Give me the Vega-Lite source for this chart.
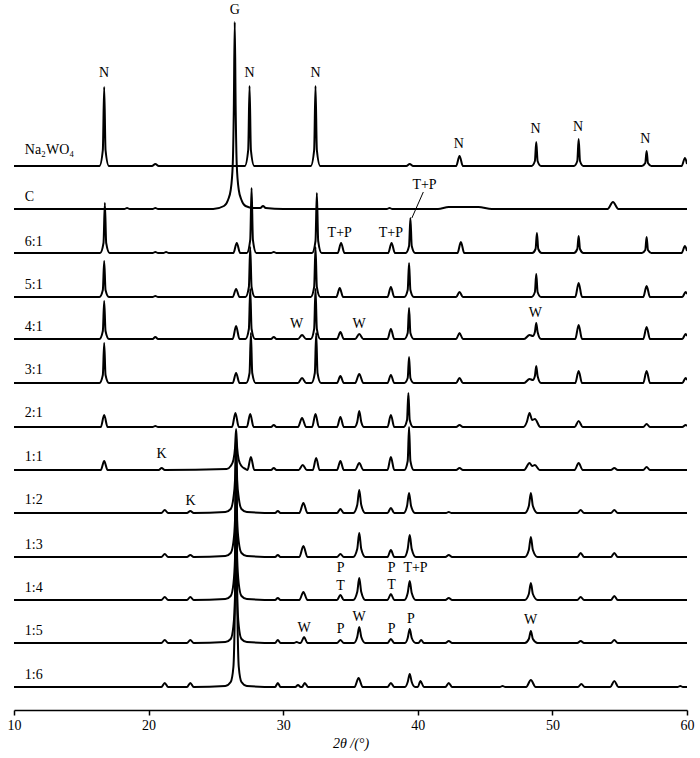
{
"$schema":"https://vega.github.io/schema/vega-lite/v6.json",
"width":673,"height":705,
"autosize":{"type":"none"},
"padding":{"left":14,"top":5,"right":13,"bottom":48},
"config":{"view":{"stroke":null},"font":"Liberation Serif"},
"datasets":{
"xrd":[
{"s":"Na","x":10,"y":544},{"s":"Na","x":16.35,"y":544},{"s":"Na","x":16.6,"y":560},{"s":"Na","x":16.7,"y":623},{"s":"Na","x":16.8,"y":560},{"s":"Na","x":17.05,"y":544},
{"s":"Na","x":20.25,"y":544},{"s":"Na","x":20.5,"y":546},{"s":"Na","x":20.75,"y":544},
{"s":"Na","x":27.15,"y":544},{"s":"Na","x":27.4,"y":560},{"s":"Na","x":27.5,"y":624},{"s":"Na","x":27.6,"y":560},{"s":"Na","x":27.85,"y":544},
{"s":"Na","x":32.05,"y":544},{"s":"Na","x":32.3,"y":560},{"s":"Na","x":32.4,"y":624},{"s":"Na","x":32.5,"y":560},{"s":"Na","x":32.75,"y":544},
{"s":"Na","x":39.15,"y":544},{"s":"Na","x":39.4,"y":546},{"s":"Na","x":39.65,"y":544},
{"s":"Na","x":42.85,"y":544},{"s":"Na","x":43.1,"y":554},{"s":"Na","x":43.35,"y":544},
{"s":"Na","x":48.45,"y":544},{"s":"Na","x":48.7,"y":549},{"s":"Na","x":48.8,"y":568},{"s":"Na","x":48.9,"y":549},{"s":"Na","x":49.15,"y":544},
{"s":"Na","x":51.6,"y":544},{"s":"Na","x":51.85,"y":549},{"s":"Na","x":51.95,"y":571},{"s":"Na","x":52.05,"y":549},{"s":"Na","x":52.3,"y":544},
{"s":"Na","x":56.65,"y":544},{"s":"Na","x":56.9,"y":547},{"s":"Na","x":57.0,"y":559},{"s":"Na","x":57.1,"y":547},{"s":"Na","x":57.35,"y":544},
{"s":"Na","x":59.6,"y":544},{"s":"Na","x":59.85,"y":552},{"s":"Na","x":60,"y":546},

{"s":"C","x":10,"y":501},{"s":"C","x":18.2,"y":501},{"s":"C","x":18.4,"y":502},{"s":"C","x":18.6,"y":501},{"s":"C","x":20.3,"y":501},{"s":"C","x":20.5,"y":502},{"s":"C","x":20.7,"y":501},
{"s":"C","x":24.8,"y":501},{"s":"C","x":25.6,"y":504},{"s":"C","x":25.9,"y":510},{"s":"C","x":26.1,"y":520},{"s":"C","x":26.25,"y":545},{"s":"C","x":26.33,"y":600},{"s":"C","x":26.4,"y":688},{"s":"C","x":26.47,"y":600},{"s":"C","x":26.55,"y":545},{"s":"C","x":26.7,"y":520},{"s":"C","x":26.9,"y":510},{"s":"C","x":27.2,"y":504},{"s":"C","x":27.8,"y":502},
{"s":"C","x":28.3,"y":502},{"s":"C","x":28.5,"y":504},{"s":"C","x":28.7,"y":502},{"s":"C","x":30,"y":501},{"s":"C","x":37.7,"y":501},{"s":"C","x":37.9,"y":502},{"s":"C","x":38.1,"y":501},
{"s":"C","x":41.5,"y":501},{"s":"C","x":42.3,"y":503},{"s":"C","x":44.5,"y":503},{"s":"C","x":45.5,"y":501},{"s":"C","x":54.1,"y":501},{"s":"C","x":54.5,"y":508},{"s":"C","x":54.9,"y":501},{"s":"C","x":60,"y":501},

{"s":"6:1","x":10,"y":457},{"s":"6:1","x":16.4,"y":457},{"s":"6:1","x":16.65,"y":467},{"s":"6:1","x":16.75,"y":507},{"s":"6:1","x":16.85,"y":467},{"s":"6:1","x":17.1,"y":457},
{"s":"6:1","x":20.3,"y":457},{"s":"6:1","x":20.5,"y":458},{"s":"6:1","x":20.7,"y":457},{"s":"6:1","x":21.1,"y":457},{"s":"6:1","x":21.3,"y":458},{"s":"6:1","x":21.5,"y":457},
{"s":"6:1","x":26.3,"y":457},{"s":"6:1","x":26.55,"y":467},{"s":"6:1","x":26.8,"y":457},
{"s":"6:1","x":27.3,"y":457},{"s":"6:1","x":27.55,"y":470},{"s":"6:1","x":27.65,"y":522},{"s":"6:1","x":27.75,"y":470},{"s":"6:1","x":28.0,"y":457},
{"s":"6:1","x":29.1,"y":457},{"s":"6:1","x":29.3,"y":458},{"s":"6:1","x":29.5,"y":457},
{"s":"6:1","x":32.15,"y":457},{"s":"6:1","x":32.4,"y":469},{"s":"6:1","x":32.5,"y":517},{"s":"6:1","x":32.6,"y":469},{"s":"6:1","x":32.85,"y":457},
{"s":"6:1","x":34.05,"y":457},{"s":"6:1","x":34.3,"y":467},{"s":"6:1","x":34.55,"y":457},
{"s":"6:1","x":37.8,"y":457},{"s":"6:1","x":38.05,"y":467},{"s":"6:1","x":38.3,"y":457},
{"s":"6:1","x":39.1,"y":457},{"s":"6:1","x":39.35,"y":464},{"s":"6:1","x":39.45,"y":492},{"s":"6:1","x":39.55,"y":464},{"s":"6:1","x":39.8,"y":457},
{"s":"6:1","x":42.95,"y":457},{"s":"6:1","x":43.2,"y":468},{"s":"6:1","x":43.45,"y":457},
{"s":"6:1","x":48.5,"y":457},{"s":"6:1","x":48.75,"y":461},{"s":"6:1","x":48.85,"y":477},{"s":"6:1","x":48.95,"y":461},{"s":"6:1","x":49.2,"y":457},
{"s":"6:1","x":51.6,"y":457},{"s":"6:1","x":51.85,"y":461},{"s":"6:1","x":51.95,"y":474},{"s":"6:1","x":52.05,"y":461},{"s":"6:1","x":52.3,"y":457},
{"s":"6:1","x":56.65,"y":457},{"s":"6:1","x":56.9,"y":460},{"s":"6:1","x":57.0,"y":473},{"s":"6:1","x":57.1,"y":460},{"s":"6:1","x":57.35,"y":457},
{"s":"6:1","x":59.6,"y":457},{"s":"6:1","x":59.85,"y":464},{"s":"6:1","x":60,"y":459},

{"s":"5:1","x":10,"y":413},{"s":"5:1","x":16.35,"y":413},{"s":"5:1","x":16.6,"y":420},{"s":"5:1","x":16.7,"y":449},{"s":"5:1","x":16.8,"y":420},{"s":"5:1","x":17.05,"y":413},
{"s":"5:1","x":20.3,"y":413},{"s":"5:1","x":20.5,"y":414},{"s":"5:1","x":20.7,"y":413},
{"s":"5:1","x":26.25,"y":413},{"s":"5:1","x":26.5,"y":421},{"s":"5:1","x":26.75,"y":413},
{"s":"5:1","x":27.2,"y":413},{"s":"5:1","x":27.45,"y":423},{"s":"5:1","x":27.55,"y":463},{"s":"5:1","x":27.65,"y":423},{"s":"5:1","x":27.9,"y":413},
{"s":"5:1","x":32.05,"y":413},{"s":"5:1","x":32.3,"y":423},{"s":"5:1","x":32.4,"y":463},{"s":"5:1","x":32.5,"y":423},{"s":"5:1","x":32.75,"y":413},
{"s":"5:1","x":33.95,"y":413},{"s":"5:1","x":34.2,"y":422},{"s":"5:1","x":34.45,"y":413},
{"s":"5:1","x":37.75,"y":413},{"s":"5:1","x":38.0,"y":423},{"s":"5:1","x":38.25,"y":413},
{"s":"5:1","x":39.0,"y":413},{"s":"5:1","x":39.25,"y":420},{"s":"5:1","x":39.35,"y":447},{"s":"5:1","x":39.45,"y":420},{"s":"5:1","x":39.7,"y":413},
{"s":"5:1","x":42.85,"y":413},{"s":"5:1","x":43.1,"y":418},{"s":"5:1","x":43.35,"y":413},
{"s":"5:1","x":48.45,"y":413},{"s":"5:1","x":48.7,"y":418},{"s":"5:1","x":48.8,"y":436},{"s":"5:1","x":48.9,"y":418},{"s":"5:1","x":49.15,"y":413},
{"s":"5:1","x":51.7,"y":413},{"s":"5:1","x":51.95,"y":427},{"s":"5:1","x":52.2,"y":413},
{"s":"5:1","x":56.75,"y":413},{"s":"5:1","x":57.0,"y":424},{"s":"5:1","x":57.25,"y":413},
{"s":"5:1","x":59.65,"y":413},{"s":"5:1","x":59.9,"y":418},{"s":"5:1","x":60,"y":416},

{"s":"4:1","x":10,"y":371},{"s":"4:1","x":16.35,"y":371},{"s":"4:1","x":16.6,"y":379},{"s":"4:1","x":16.7,"y":409},{"s":"4:1","x":16.8,"y":379},{"s":"4:1","x":17.05,"y":371},
{"s":"4:1","x":20.3,"y":371},{"s":"4:1","x":20.5,"y":373},{"s":"4:1","x":20.7,"y":371},
{"s":"4:1","x":26.25,"y":371},{"s":"4:1","x":26.5,"y":384},{"s":"4:1","x":26.75,"y":371},
{"s":"4:1","x":27.2,"y":371},{"s":"4:1","x":27.45,"y":381},{"s":"4:1","x":27.55,"y":421},{"s":"4:1","x":27.65,"y":381},{"s":"4:1","x":27.9,"y":371},
{"s":"4:1","x":29.1,"y":371},{"s":"4:1","x":29.3,"y":373},{"s":"4:1","x":29.5,"y":371},
{"s":"4:1","x":31.1,"y":371},{"s":"4:1","x":31.4,"y":375},{"s":"4:1","x":31.7,"y":371},
{"s":"4:1","x":32.05,"y":371},{"s":"4:1","x":32.3,"y":381},{"s":"4:1","x":32.4,"y":421},{"s":"4:1","x":32.5,"y":381},{"s":"4:1","x":32.75,"y":371},
{"s":"4:1","x":34.0,"y":371},{"s":"4:1","x":34.25,"y":378},{"s":"4:1","x":34.5,"y":371},
{"s":"4:1","x":35.35,"y":371},{"s":"4:1","x":35.65,"y":376},{"s":"4:1","x":35.95,"y":371},
{"s":"4:1","x":37.75,"y":371},{"s":"4:1","x":38.0,"y":381},{"s":"4:1","x":38.25,"y":371},
{"s":"4:1","x":39.0,"y":371},{"s":"4:1","x":39.25,"y":377},{"s":"4:1","x":39.35,"y":402},{"s":"4:1","x":39.45,"y":377},{"s":"4:1","x":39.7,"y":371},
{"s":"4:1","x":42.85,"y":371},{"s":"4:1","x":43.1,"y":377},{"s":"4:1","x":43.35,"y":371},
{"s":"4:1","x":47.9,"y":371},{"s":"4:1","x":48.3,"y":375},{"s":"4:1","x":48.55,"y":374},{"s":"4:1","x":48.7,"y":378},{"s":"4:1","x":48.8,"y":387},{"s":"4:1","x":48.9,"y":378},{"s":"4:1","x":49.15,"y":371},
{"s":"4:1","x":51.7,"y":371},{"s":"4:1","x":51.95,"y":385},{"s":"4:1","x":52.2,"y":371},
{"s":"4:1","x":56.75,"y":371},{"s":"4:1","x":57.0,"y":383},{"s":"4:1","x":57.25,"y":371},
{"s":"4:1","x":59.65,"y":371},{"s":"4:1","x":59.9,"y":376},{"s":"4:1","x":60,"y":374},

{"s":"3:1","x":10,"y":327},{"s":"3:1","x":16.35,"y":327},{"s":"3:1","x":16.6,"y":335},{"s":"3:1","x":16.7,"y":367},{"s":"3:1","x":16.8,"y":335},{"s":"3:1","x":17.05,"y":327},
{"s":"3:1","x":26.25,"y":327},{"s":"3:1","x":26.5,"y":337},{"s":"3:1","x":26.75,"y":327},
{"s":"3:1","x":27.25,"y":327},{"s":"3:1","x":27.5,"y":337},{"s":"3:1","x":27.6,"y":377},{"s":"3:1","x":27.7,"y":337},{"s":"3:1","x":27.95,"y":327},
{"s":"3:1","x":31.1,"y":327},{"s":"3:1","x":31.4,"y":332},{"s":"3:1","x":31.7,"y":327},
{"s":"3:1","x":32.1,"y":327},{"s":"3:1","x":32.35,"y":337},{"s":"3:1","x":32.45,"y":377},{"s":"3:1","x":32.55,"y":337},{"s":"3:1","x":32.8,"y":327},
{"s":"3:1","x":34.0,"y":327},{"s":"3:1","x":34.25,"y":334},{"s":"3:1","x":34.5,"y":327},
{"s":"3:1","x":35.35,"y":327},{"s":"3:1","x":35.65,"y":336},{"s":"3:1","x":35.95,"y":327},
{"s":"3:1","x":37.75,"y":327},{"s":"3:1","x":38.0,"y":335},{"s":"3:1","x":38.25,"y":327},
{"s":"3:1","x":39.0,"y":327},{"s":"3:1","x":39.25,"y":332},{"s":"3:1","x":39.35,"y":353},{"s":"3:1","x":39.45,"y":332},{"s":"3:1","x":39.7,"y":327},
{"s":"3:1","x":42.85,"y":327},{"s":"3:1","x":43.1,"y":332},{"s":"3:1","x":43.35,"y":327},
{"s":"3:1","x":47.9,"y":327},{"s":"3:1","x":48.3,"y":331},{"s":"3:1","x":48.55,"y":330},{"s":"3:1","x":48.7,"y":334},{"s":"3:1","x":48.8,"y":344},{"s":"3:1","x":48.9,"y":334},{"s":"3:1","x":49.15,"y":327},
{"s":"3:1","x":51.7,"y":327},{"s":"3:1","x":51.95,"y":339},{"s":"3:1","x":52.2,"y":327},
{"s":"3:1","x":56.75,"y":327},{"s":"3:1","x":57.0,"y":339},{"s":"3:1","x":57.25,"y":327},
{"s":"3:1","x":59.65,"y":327},{"s":"3:1","x":59.9,"y":332},{"s":"3:1","x":60,"y":330},

{"s":"2:1","x":10,"y":283},{"s":"2:1","x":16.45,"y":283},{"s":"2:1","x":16.7,"y":295},{"s":"2:1","x":16.95,"y":283},
{"s":"2:1","x":20.3,"y":283},{"s":"2:1","x":20.5,"y":284},{"s":"2:1","x":20.7,"y":283},
{"s":"2:1","x":26.2,"y":283},{"s":"2:1","x":26.45,"y":297},{"s":"2:1","x":26.7,"y":283},
{"s":"2:1","x":27.3,"y":283},{"s":"2:1","x":27.55,"y":296},{"s":"2:1","x":27.8,"y":283},
{"s":"2:1","x":29.1,"y":283},{"s":"2:1","x":29.3,"y":285},{"s":"2:1","x":29.5,"y":283},
{"s":"2:1","x":31.1,"y":283},{"s":"2:1","x":31.4,"y":292},{"s":"2:1","x":31.7,"y":283},
{"s":"2:1","x":32.15,"y":283},{"s":"2:1","x":32.4,"y":296},{"s":"2:1","x":32.65,"y":283},
{"s":"2:1","x":34.0,"y":283},{"s":"2:1","x":34.25,"y":293},{"s":"2:1","x":34.5,"y":283},
{"s":"2:1","x":35.3,"y":283},{"s":"2:1","x":35.5,"y":288},{"s":"2:1","x":35.65,"y":299},{"s":"2:1","x":35.8,"y":288},{"s":"2:1","x":36.0,"y":283},
{"s":"2:1","x":37.75,"y":283},{"s":"2:1","x":38.0,"y":295},{"s":"2:1","x":38.25,"y":283},
{"s":"2:1","x":38.95,"y":283},{"s":"2:1","x":39.2,"y":290},{"s":"2:1","x":39.3,"y":317},{"s":"2:1","x":39.4,"y":290},{"s":"2:1","x":39.65,"y":283},
{"s":"2:1","x":42.85,"y":283},{"s":"2:1","x":43.1,"y":285},{"s":"2:1","x":43.35,"y":283},
{"s":"2:1","x":47.85,"y":283},{"s":"2:1","x":48.1,"y":288},{"s":"2:1","x":48.3,"y":297},{"s":"2:1","x":48.5,"y":290},{"s":"2:1","x":48.7,"y":291},{"s":"2:1","x":49.1,"y":283},
{"s":"2:1","x":51.65,"y":283},{"s":"2:1","x":51.95,"y":289},{"s":"2:1","x":52.25,"y":283},
{"s":"2:1","x":56.75,"y":283},{"s":"2:1","x":57.0,"y":286},{"s":"2:1","x":57.25,"y":283},
{"s":"2:1","x":59.65,"y":283},{"s":"2:1","x":59.9,"y":285},{"s":"2:1","x":60,"y":284},

{"s":"1:1","x":10,"y":240},{"s":"1:1","x":16.45,"y":240},{"s":"1:1","x":16.7,"y":249},{"s":"1:1","x":16.95,"y":240},
{"s":"1:1","x":20.75,"y":240},{"s":"1:1","x":20.97,"y":242},{"s":"1:1","x":21.2,"y":240},
{"s":"1:1","x":25.8,"y":241},{"s":"1:1","x":26.1,"y":244},{"s":"1:1","x":26.3,"y":250},{"s":"1:1","x":26.42,"y":262},{"s":"1:1","x":26.5,"y":281},{"s":"1:1","x":26.58,"y":262},{"s":"1:1","x":26.7,"y":250},{"s":"1:1","x":26.9,"y":244},{"s":"1:1","x":27.2,"y":241},
{"s":"1:1","x":27.35,"y":240},{"s":"1:1","x":27.6,"y":253},{"s":"1:1","x":27.85,"y":240},
{"s":"1:1","x":29.1,"y":240},{"s":"1:1","x":29.3,"y":242},{"s":"1:1","x":29.5,"y":240},
{"s":"1:1","x":31.15,"y":240},{"s":"1:1","x":31.45,"y":245},{"s":"1:1","x":31.75,"y":240},
{"s":"1:1","x":32.2,"y":240},{"s":"1:1","x":32.45,"y":252},{"s":"1:1","x":32.7,"y":240},
{"s":"1:1","x":34.0,"y":240},{"s":"1:1","x":34.25,"y":249},{"s":"1:1","x":34.5,"y":240},
{"s":"1:1","x":35.35,"y":240},{"s":"1:1","x":35.65,"y":247},{"s":"1:1","x":35.95,"y":240},
{"s":"1:1","x":37.75,"y":240},{"s":"1:1","x":38.0,"y":253},{"s":"1:1","x":38.25,"y":240},
{"s":"1:1","x":39.0,"y":240},{"s":"1:1","x":39.25,"y":249},{"s":"1:1","x":39.35,"y":283},{"s":"1:1","x":39.45,"y":249},{"s":"1:1","x":39.7,"y":240},
{"s":"1:1","x":42.85,"y":240},{"s":"1:1","x":43.1,"y":242},{"s":"1:1","x":43.35,"y":240},
{"s":"1:1","x":47.9,"y":240},{"s":"1:1","x":48.3,"y":247},{"s":"1:1","x":48.5,"y":244},{"s":"1:1","x":48.7,"y":245},{"s":"1:1","x":49.05,"y":240},
{"s":"1:1","x":51.65,"y":240},{"s":"1:1","x":51.95,"y":247},{"s":"1:1","x":52.25,"y":240},
{"s":"1:1","x":54.35,"y":240},{"s":"1:1","x":54.6,"y":242},{"s":"1:1","x":54.85,"y":240},
{"s":"1:1","x":56.75,"y":240},{"s":"1:1","x":57.0,"y":243},{"s":"1:1","x":57.25,"y":240},{"s":"1:1","x":60,"y":240},

{"s":"1:2","x":10,"y":197},{"s":"1:2","x":20.95,"y":197},{"s":"1:2","x":21.2,"y":200},{"s":"1:2","x":21.45,"y":197},
{"s":"1:2","x":22.85,"y":197},{"s":"1:2","x":23.1,"y":199},{"s":"1:2","x":23.35,"y":197},
{"s":"1:2","x":25.7,"y":198},{"s":"1:2","x":26.1,"y":201},{"s":"1:2","x":26.3,"y":212},{"s":"1:2","x":26.42,"y":230},{"s":"1:2","x":26.5,"y":275},{"s":"1:2","x":26.58,"y":230},{"s":"1:2","x":26.7,"y":212},{"s":"1:2","x":26.9,"y":201},{"s":"1:2","x":27.3,"y":198},
{"s":"1:2","x":29.4,"y":197},{"s":"1:2","x":29.6,"y":199},{"s":"1:2","x":29.8,"y":197},
{"s":"1:2","x":31.2,"y":197},{"s":"1:2","x":31.5,"y":207},{"s":"1:2","x":31.8,"y":197},
{"s":"1:2","x":34.0,"y":197},{"s":"1:2","x":34.25,"y":201},{"s":"1:2","x":34.5,"y":197},
{"s":"1:2","x":35.2,"y":197},{"s":"1:2","x":35.5,"y":205},{"s":"1:2","x":35.65,"y":220},{"s":"1:2","x":35.8,"y":205},{"s":"1:2","x":36.1,"y":197},
{"s":"1:2","x":37.75,"y":197},{"s":"1:2","x":38.0,"y":202},{"s":"1:2","x":38.25,"y":197},
{"s":"1:2","x":38.95,"y":197},{"s":"1:2","x":39.2,"y":204},{"s":"1:2","x":39.35,"y":217},{"s":"1:2","x":39.5,"y":204},{"s":"1:2","x":39.8,"y":197},
{"s":"1:2","x":42.1,"y":197},{"s":"1:2","x":42.3,"y":198},{"s":"1:2","x":42.5,"y":197},
{"s":"1:2","x":47.95,"y":197},{"s":"1:2","x":48.25,"y":204},{"s":"1:2","x":48.4,"y":217},{"s":"1:2","x":48.55,"y":204},{"s":"1:2","x":48.9,"y":197},
{"s":"1:2","x":51.85,"y":197},{"s":"1:2","x":52.1,"y":200},{"s":"1:2","x":52.35,"y":197},
{"s":"1:2","x":54.35,"y":197},{"s":"1:2","x":54.6,"y":200},{"s":"1:2","x":54.85,"y":197},{"s":"1:2","x":60,"y":197},

{"s":"1:3","x":10,"y":153},{"s":"1:3","x":20.95,"y":153},{"s":"1:3","x":21.2,"y":156},{"s":"1:3","x":21.45,"y":153},
{"s":"1:3","x":22.85,"y":153},{"s":"1:3","x":23.1,"y":155},{"s":"1:3","x":23.35,"y":153},
{"s":"1:3","x":25.7,"y":154},{"s":"1:3","x":26.1,"y":157},{"s":"1:3","x":26.3,"y":168},{"s":"1:3","x":26.42,"y":190},{"s":"1:3","x":26.5,"y":262},{"s":"1:3","x":26.58,"y":190},{"s":"1:3","x":26.7,"y":168},{"s":"1:3","x":26.9,"y":157},{"s":"1:3","x":27.3,"y":154},
{"s":"1:3","x":29.4,"y":153},{"s":"1:3","x":29.6,"y":155},{"s":"1:3","x":29.8,"y":153},
{"s":"1:3","x":31.2,"y":153},{"s":"1:3","x":31.5,"y":164},{"s":"1:3","x":31.8,"y":153},
{"s":"1:3","x":34.0,"y":153},{"s":"1:3","x":34.25,"y":156},{"s":"1:3","x":34.5,"y":153},
{"s":"1:3","x":35.2,"y":153},{"s":"1:3","x":35.5,"y":161},{"s":"1:3","x":35.65,"y":177},{"s":"1:3","x":35.8,"y":161},{"s":"1:3","x":36.1,"y":153},
{"s":"1:3","x":37.75,"y":153},{"s":"1:3","x":38.0,"y":160},{"s":"1:3","x":38.25,"y":153},
{"s":"1:3","x":39.0,"y":153},{"s":"1:3","x":39.25,"y":161},{"s":"1:3","x":39.4,"y":175},{"s":"1:3","x":39.55,"y":161},{"s":"1:3","x":39.85,"y":153},
{"s":"1:3","x":42.05,"y":153},{"s":"1:3","x":42.3,"y":155},{"s":"1:3","x":42.55,"y":153},
{"s":"1:3","x":47.95,"y":153},{"s":"1:3","x":48.25,"y":160},{"s":"1:3","x":48.4,"y":173},{"s":"1:3","x":48.55,"y":160},{"s":"1:3","x":48.9,"y":153},
{"s":"1:3","x":51.85,"y":153},{"s":"1:3","x":52.1,"y":157},{"s":"1:3","x":52.35,"y":153},
{"s":"1:3","x":54.35,"y":153},{"s":"1:3","x":54.6,"y":157},{"s":"1:3","x":54.85,"y":153},{"s":"1:3","x":60,"y":153},

{"s":"1:4","x":10,"y":110},{"s":"1:4","x":20.95,"y":110},{"s":"1:4","x":21.2,"y":113},{"s":"1:4","x":21.45,"y":110},
{"s":"1:4","x":22.85,"y":110},{"s":"1:4","x":23.1,"y":113},{"s":"1:4","x":23.35,"y":110},
{"s":"1:4","x":25.7,"y":111},{"s":"1:4","x":26.1,"y":114},{"s":"1:4","x":26.3,"y":126},{"s":"1:4","x":26.42,"y":152},{"s":"1:4","x":26.5,"y":250},{"s":"1:4","x":26.58,"y":152},{"s":"1:4","x":26.7,"y":126},{"s":"1:4","x":26.9,"y":114},{"s":"1:4","x":27.3,"y":111},
{"s":"1:4","x":29.4,"y":110},{"s":"1:4","x":29.6,"y":112},{"s":"1:4","x":29.8,"y":110},
{"s":"1:4","x":31.2,"y":110},{"s":"1:4","x":31.5,"y":118},{"s":"1:4","x":31.8,"y":110},
{"s":"1:4","x":34.0,"y":110},{"s":"1:4","x":34.25,"y":115},{"s":"1:4","x":34.5,"y":110},
{"s":"1:4","x":35.2,"y":110},{"s":"1:4","x":35.5,"y":118},{"s":"1:4","x":35.65,"y":132},{"s":"1:4","x":35.8,"y":118},{"s":"1:4","x":36.1,"y":110},
{"s":"1:4","x":37.75,"y":110},{"s":"1:4","x":38.0,"y":116},{"s":"1:4","x":38.25,"y":110},
{"s":"1:4","x":39.0,"y":110},{"s":"1:4","x":39.25,"y":117},{"s":"1:4","x":39.4,"y":129},{"s":"1:4","x":39.55,"y":117},{"s":"1:4","x":39.85,"y":110},
{"s":"1:4","x":42.05,"y":110},{"s":"1:4","x":42.3,"y":112},{"s":"1:4","x":42.55,"y":110},
{"s":"1:4","x":47.95,"y":110},{"s":"1:4","x":48.25,"y":116},{"s":"1:4","x":48.4,"y":127},{"s":"1:4","x":48.55,"y":116},{"s":"1:4","x":48.9,"y":110},
{"s":"1:4","x":51.85,"y":110},{"s":"1:4","x":52.1,"y":113},{"s":"1:4","x":52.35,"y":110},
{"s":"1:4","x":54.35,"y":110},{"s":"1:4","x":54.6,"y":114},{"s":"1:4","x":54.85,"y":110},{"s":"1:4","x":60,"y":110},

{"s":"1:5","x":10,"y":67},{"s":"1:5","x":20.95,"y":67},{"s":"1:5","x":21.2,"y":70},{"s":"1:5","x":21.45,"y":67},
{"s":"1:5","x":22.85,"y":67},{"s":"1:5","x":23.1,"y":70},{"s":"1:5","x":23.35,"y":67},
{"s":"1:5","x":25.7,"y":68},{"s":"1:5","x":26.1,"y":71},{"s":"1:5","x":26.3,"y":84},{"s":"1:5","x":26.42,"y":112},{"s":"1:5","x":26.5,"y":230},{"s":"1:5","x":26.58,"y":112},{"s":"1:5","x":26.7,"y":84},{"s":"1:5","x":26.9,"y":71},{"s":"1:5","x":27.3,"y":68},
{"s":"1:5","x":29.4,"y":67},{"s":"1:5","x":29.6,"y":70},{"s":"1:5","x":29.8,"y":67},
{"s":"1:5","x":30.8,"y":67},{"s":"1:5","x":31.0,"y":68},{"s":"1:5","x":31.2,"y":67},
{"s":"1:5","x":31.3,"y":67},{"s":"1:5","x":31.55,"y":73},{"s":"1:5","x":31.8,"y":67},
{"s":"1:5","x":34.0,"y":67},{"s":"1:5","x":34.25,"y":70},{"s":"1:5","x":34.5,"y":67},
{"s":"1:5","x":35.25,"y":67},{"s":"1:5","x":35.5,"y":73},{"s":"1:5","x":35.65,"y":83},{"s":"1:5","x":35.8,"y":73},{"s":"1:5","x":36.1,"y":67},
{"s":"1:5","x":37.75,"y":67},{"s":"1:5","x":38.0,"y":71},{"s":"1:5","x":38.25,"y":67},
{"s":"1:5","x":39.05,"y":67},{"s":"1:5","x":39.25,"y":72},{"s":"1:5","x":39.4,"y":81},{"s":"1:5","x":39.55,"y":72},{"s":"1:5","x":39.85,"y":67},
{"s":"1:5","x":40.05,"y":67},{"s":"1:5","x":40.25,"y":70},{"s":"1:5","x":40.45,"y":67},
{"s":"1:5","x":42.05,"y":67},{"s":"1:5","x":42.3,"y":69},{"s":"1:5","x":42.55,"y":67},
{"s":"1:5","x":47.95,"y":67},{"s":"1:5","x":48.25,"y":71},{"s":"1:5","x":48.4,"y":79},{"s":"1:5","x":48.55,"y":71},{"s":"1:5","x":48.9,"y":67},
{"s":"1:5","x":51.85,"y":67},{"s":"1:5","x":52.1,"y":69},{"s":"1:5","x":52.35,"y":67},
{"s":"1:5","x":54.35,"y":67},{"s":"1:5","x":54.6,"y":70},{"s":"1:5","x":54.85,"y":67},{"s":"1:5","x":60,"y":67},

{"s":"1:6","x":10,"y":23},{"s":"1:6","x":20.95,"y":23},{"s":"1:6","x":21.2,"y":27},{"s":"1:6","x":21.45,"y":23},
{"s":"1:6","x":22.85,"y":23},{"s":"1:6","x":23.1,"y":27},{"s":"1:6","x":23.35,"y":23},
{"s":"1:6","x":25.7,"y":24},{"s":"1:6","x":26.1,"y":28},{"s":"1:6","x":26.3,"y":43},{"s":"1:6","x":26.4,"y":93},{"s":"1:6","x":26.5,"y":213},{"s":"1:6","x":26.6,"y":93},{"s":"1:6","x":26.7,"y":43},{"s":"1:6","x":26.9,"y":28},{"s":"1:6","x":27.3,"y":24},
{"s":"1:6","x":29.4,"y":23},{"s":"1:6","x":29.6,"y":27},{"s":"1:6","x":29.8,"y":23},
{"s":"1:6","x":30.9,"y":23},{"s":"1:6","x":31.1,"y":25},{"s":"1:6","x":31.3,"y":23},
{"s":"1:6","x":31.4,"y":23},{"s":"1:6","x":31.6,"y":27},{"s":"1:6","x":31.85,"y":23},
{"s":"1:6","x":35.3,"y":23},{"s":"1:6","x":35.6,"y":32},{"s":"1:6","x":35.9,"y":23},
{"s":"1:6","x":37.75,"y":23},{"s":"1:6","x":38.0,"y":27},{"s":"1:6","x":38.25,"y":23},
{"s":"1:6","x":39.05,"y":23},{"s":"1:6","x":39.25,"y":28},{"s":"1:6","x":39.4,"y":36},{"s":"1:6","x":39.55,"y":28},{"s":"1:6","x":39.8,"y":23},
{"s":"1:6","x":40.0,"y":23},{"s":"1:6","x":40.2,"y":29},{"s":"1:6","x":40.45,"y":23},
{"s":"1:6","x":42.05,"y":23},{"s":"1:6","x":42.3,"y":27},{"s":"1:6","x":42.55,"y":23},
{"s":"1:6","x":46.1,"y":23},{"s":"1:6","x":46.3,"y":24},{"s":"1:6","x":46.5,"y":23},
{"s":"1:6","x":48.05,"y":23},{"s":"1:6","x":48.4,"y":30},{"s":"1:6","x":48.75,"y":23},
{"s":"1:6","x":51.9,"y":23},{"s":"1:6","x":52.15,"y":26},{"s":"1:6","x":52.4,"y":23},
{"s":"1:6","x":54.3,"y":23},{"s":"1:6","x":54.6,"y":29},{"s":"1:6","x":54.9,"y":23},
{"s":"1:6","x":59.3,"y":23},{"s":"1:6","x":59.5,"y":24},{"s":"1:6","x":59.7,"y":23},{"s":"1:6","x":60,"y":23}
],
"names":[
{"x":10.8,"y":560,"t":"Na₂WO₄"},{"x":10.8,"y":513,"t":"C"},{"x":10.8,"y":468,"t":"6:1"},{"x":10.8,"y":425,"t":"5:1"},{"x":10.8,"y":383,"t":"4:1"},{"x":10.8,"y":340,"t":"3:1"},{"x":10.8,"y":297,"t":"2:1"},{"x":10.8,"y":253,"t":"1:1"},{"x":10.8,"y":210,"t":"1:2"},{"x":10.8,"y":165,"t":"1:3"},{"x":10.8,"y":122,"t":"1:4"},{"x":10.8,"y":79,"t":"1:5"},{"x":10.8,"y":35,"t":"1:6"}
],
"peaks":[
{"x":16.7,"y":637,"t":"N"},{"x":26.4,"y":700,"t":"G"},{"x":27.5,"y":637,"t":"N"},{"x":32.4,"y":637,"t":"N"},{"x":43.05,"y":566,"t":"N"},{"x":48.74,"y":581,"t":"N"},{"x":51.9,"y":583,"t":"N"},{"x":56.9,"y":571,"t":"N"},
{"x":34.2,"y":477,"t":"T+P"},{"x":38.0,"y":477,"t":"T+P"},{"x":40.5,"y":525,"t":"T+P"},
{"x":31.0,"y":386,"t":"W"},{"x":35.64,"y":386,"t":"W"},{"x":48.74,"y":397,"t":"W"},
{"x":20.97,"y":256,"t":"K"},{"x":23.12,"y":209,"t":"K"},
{"x":34.26,"y":142,"t":"P"},{"x":34.26,"y":124,"t":"T"},{"x":38.05,"y":142,"t":"P"},{"x":38.05,"y":125,"t":"T"},{"x":39.83,"y":142,"t":"T+P"},
{"x":31.56,"y":82,"t":"W"},{"x":34.26,"y":81,"t":"P"},{"x":35.64,"y":93,"t":"W"},{"x":38.05,"y":81,"t":"P"},{"x":39.48,"y":91,"t":"P"},{"x":48.39,"y":90,"t":"W"}
],
"lead":[{"x":40.41,"y":518,"x2":39.56,"y2":492}]
},
"layer":[
{"data":{"name":"xrd"},
 "mark":{"type":"line","color":"black","strokeWidth":2,"interpolate":"monotone","clip":true},
 "encoding":{
  "x":{"field":"x","type":"quantitative","scale":{"domain":[10,60],"nice":false},
   "axis":{"values":[10,20,30,40,50,60],"title":"2θ /(°)","titleFont":"Liberation Serif","titleFontStyle":"italic","titleFontWeight":"normal","titleFontSize":14,"titleColor":"black","titlePadding":4,
   "labelFont":"Liberation Serif","labelFontSize":14,"labelColor":"black","labelPadding":3,"labelFlush":false,
   "domainColor":"black","domainWidth":1.5,"tickColor":"black","tickWidth":1.5,"tickSize":5,"grid":false}},
  "y":{"field":"y","type":"quantitative","scale":{"domain":[0,705],"nice":false,"zero":false},"axis":null},
  "detail":{"field":"s"}}},
{"data":{"name":"lead"},
 "mark":{"type":"rule","color":"black","strokeWidth":1},
 "encoding":{"x":{"field":"x","type":"quantitative"},"y":{"field":"y","type":"quantitative"},"x2":{"field":"x2"},"y2":{"field":"y2"}}},
{"data":{"name":"names"},
 "mark":{"type":"text","align":"left","baseline":"middle","fontSize":14,"font":"Liberation Serif","color":"black"},
 "encoding":{"x":{"field":"x","type":"quantitative"},"y":{"field":"y","type":"quantitative"},"text":{"field":"t"}}},
{"data":{"name":"peaks"},
 "mark":{"type":"text","align":"center","baseline":"middle","fontSize":14,"font":"Liberation Serif","color":"black"},
 "encoding":{"x":{"field":"x","type":"quantitative"},"y":{"field":"y","type":"quantitative"},"text":{"field":"t"}}}
]
}
